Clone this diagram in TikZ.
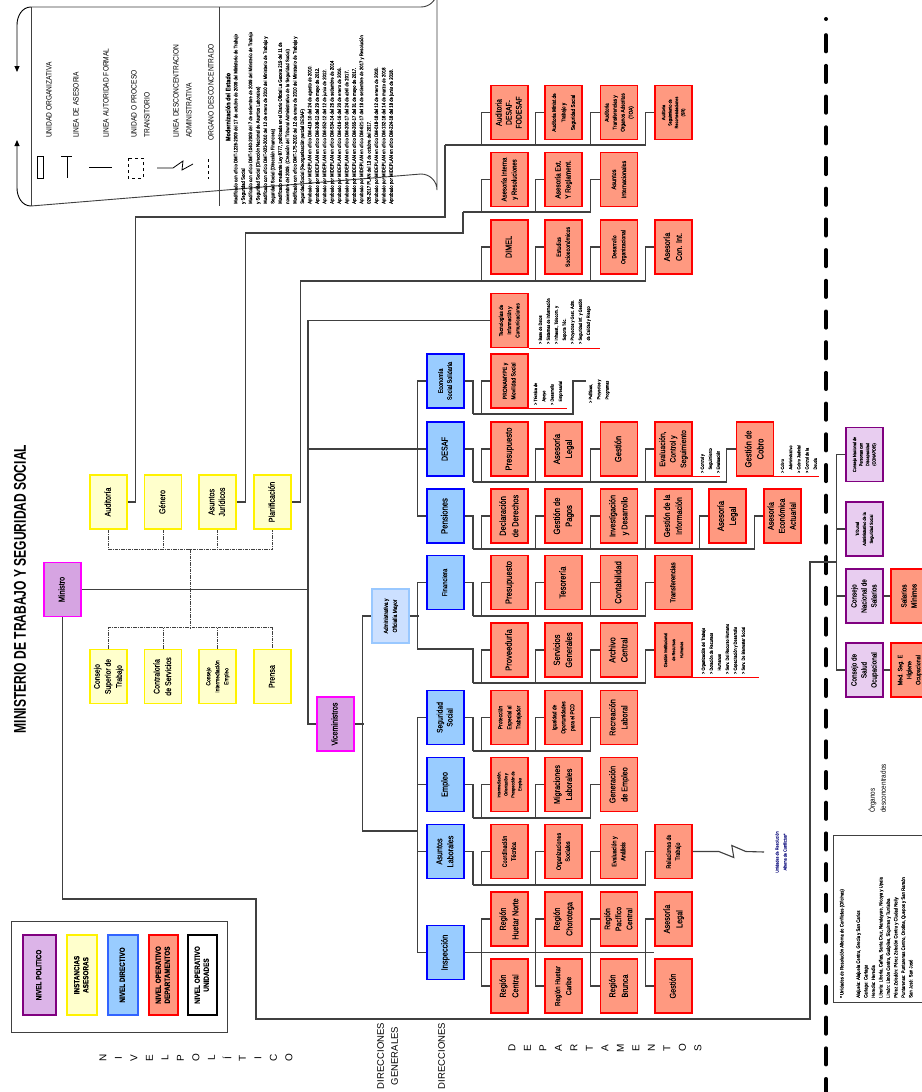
\documentclass[tikz,border=0pt]{standalone}
\usepackage{graphicx}
\usepackage{fontspec}
\setmainfont{Liberation Sans}[FakeStretch=0.85,FakeBold=0.35]
\newfontfamily\widef{Liberation Sans}
\newfontfamily\thinf{Liberation Sans}[FakeStretch=0.85]
\newfontfamily\titlef{Liberation Sans}[FakeStretch=0.71]
\usetikzlibrary{arrows.meta}
\definecolor{salmon}{RGB}{255,153,128}
\definecolor{skyb}{RGB}{153,204,255}
\definecolor{bordb}{RGB}{0,0,255}
\definecolor{paley}{RGB}{255,255,204}
\definecolor{lilac}{RGB}{214,164,226}
\definecolor{mag}{RGB}{255,0,255}
\definecolor{dpur}{RGB}{128,0,128}
\definecolor{lilacd}{RGB}{232,205,240}
\definecolor{lilacl}{RGB}{220,180,232}
\definecolor{paleb}{RGB}{204,224,255}
\definecolor{paleborder}{RGB}{153,200,255}
\definecolor{lnc}{RGB}{64,64,64}
\definecolor{navy}{RGB}{40,40,140}
\newcommand\rt[3]{\rotatebox{90}{\fontsize{#1}{#2}\selectfont\begin{tabular}{@{}c@{}}#3\end{tabular}}}
\newcommand\rtl[3]{\rotatebox{90}{\fontsize{#1}{#2}\selectfont\begin{tabular}{@{}l@{}}#3\end{tabular}}}
\newcommand\rtt[3]{\rotatebox{90}{\thinf\fontsize{#1}{#2}\selectfont\begin{tabular}{@{}l@{}}#3\end{tabular}}}
\newcommand\rtw[3]{\rotatebox{90}{\widef\fontsize{#1}{#2}\selectfont\begin{tabular}{@{}c@{}}#3\end{tabular}}}
\newcommand\ind{\phantom{> }}
\begin{document}
\begin{tikzpicture}[x=1pt,y=-1pt,
  bx/.style={minimum width=37pt,minimum height=54pt,inner sep=0pt,line width=1.6pt,text=black},
  redb/.style={bx,draw=red,fill=salmon},
  blueb/.style={bx,draw=bordb,fill=skyb},
  yelb/.style={bx,draw=yellow,fill=paley},
  polb/.style={bx,draw=mag,fill=lilac},
  desb/.style={bx,draw=dpur,fill=lilacd},
  admb/.style={bx,draw=paleborder,fill=paleb},
  ln/.style={draw=lnc,line width=1.1pt},
  adv/.style={draw=lnc,line width=0.9pt,dash pattern=on 3.5pt off 1pt on 1pt off 1pt},
  legb/.style={minimum height=80pt,inner sep=0pt,line width=1.5pt,text=black},
  ul/.style={draw=red,line width=1pt},
  lst/.style={inner sep=0pt,anchor=south west}]
\useasboundingbox (0,0) rectangle (921,1092);
\fill[white] (0,0) rectangle (921,1092);

% ---------- top-left legend ----------
\draw[lnc,line width=0.9pt] (31,7) -- (421,7) arc[start angle=90,end angle=0,radius=16] -- (437,190) arc[start angle=0,end angle=-90,radius=16] -- (31,206);
\draw[lnc,line width=0.9pt] (31,7) -- (31,206);
\draw[lnc,line width=0.9pt] (219,7) -- (219,206);
\draw[black,line width=0.9pt,-{Triangle[length=6pt,width=5pt]}] (31,7) to[out=180,in=90] (17,25) -- (17,72);
\draw[black,line width=0.9pt,-{Triangle[length=6pt,width=5pt]}] (31,206) to[out=180,in=-90] (17,188) -- (17,140);
\draw[black,line width=0.8pt] (37,156) rectangle (43,178);
\draw[black,line width=0.8pt] (61,156) -- (72,156) (67,156) -- (67,178);
\draw[black,line width=0.8pt] (89,167) -- (112,167);
\draw[black,line width=0.8pt,dashed] (128,158) rectangle (143,178);
\draw[black,line width=0.8pt] (157,168) -- (173,168) -- (183,161) -- (182,170) -- (193,164);
\draw[black,line width=0.8pt,dashed] (208,159) -- (208,179);
\node[anchor=south,inner sep=0pt] (l1) at (49,138) {\rtt{7.8}{13}{UNIDAD ORGANIZATIVA}};
\node[anchor=south,inner sep=0pt] (l2) at (76,138) {\rtt{7.8}{13}{LINEA DE ASESORIA}};
\node[anchor=south,inner sep=0pt] (l3) at (106,138) {\rtt{7.8}{13}{LINEA AUTORIDAD FORMAL}};
\node[anchor=south,inner sep=0pt] (l4) at (140.5,138) {\rtt{7.8}{13}{UNIDAD O PROCESO\\TRANSITORIO}};
\node[anchor=south,inner sep=0pt] (l5) at (182.5,138) {\rtt{7.8}{13}{LINEA DESCONCENTRACION\\ADMINISTRATIVA}};
\node[anchor=south,inner sep=0pt] (l6) at (211,141) {\rtt{7.8}{13}{ORGANO DESCONCENTRADO}};
\node (modt) at (228,107) {\rotatebox{90}{\fontsize{6.5}{7}\selectfont\bfseries Modernización del Estado}};
\node[lst] (modp) at (232,204) {\rtl{5}{7.4}{%
Modificado con oficio DMT-1226-2009 del 17 de octubre de 2009 del Ministerio de Trabajo\\
y Seguridad Social\\
Modificado con oficio DMT-1040-2009 del 7 de setiembre de 2009 del Ministerio de Trabajo\\
y Seguridad Social (Dirección Nacional de Asuntos Laborales)\\
Modificado con oficio DMT-023-2010 del 12 de enero de 2010 del Ministerio de Trabajo y\\
Seguridad Social (Dirección Financiera)\\
Modificado mediante Ley 8777, publicada en el Diario Oficial La Gaceta 219 del 11 de\\
noviembre del 2009. (Creación del Tribunal Administrativo de la Seguridad Social)\\
Modificado con oficio DMT-175-2010 del 12 de enero de 2010 del Ministerio de Trabajo y\\
Seguridad Social (Reorganización parcial DESAF)\\
Aprobado por MIDEPLAN en oficio DM-419-10 del 24 de agosto de 2010.\\
Aprobado por MIDEPLAN en oficio DM-308-12 del 29 de mayo de 2012.\\
Aprobado por MIDEPLAN en oficio DM-352-12 del 12 de junio de 2012.\\
Aprobado por MIDEPLAN en oficio DM-534-14 del 26 de setiembre de 2014\\
Aprobado por MIDEPLAN en oficio DM-016-16 del 20 de enero de 2016.\\
Aprobado por MIDEPLAN en oficio DM-200-17 del 24 de abril de 2017.\\
Aprobado por MIDEPLAN en oficio DM-265-17 del 31 de mayo de 2017.\\
Aprobado por MIDEPLAN en oficio DM-621-17 del 18 de setiembre de 2017 y Resolución\\
026-2017 PLAN del 13 de octubre del 2017.\\
Aprobado por MIDEPLAN en oficio DM-018-18 del 12 de enero de 2018.\\
Aprobado por MIDEPLAN en oficio DM-132-18 del 14 de marzo de 2018\\
Aprobado por MIDEPLAN en oficio DM-224-18 del 18 de junio de 2018.}};

% ---------- title ----------
\node (title) at (20,589) {\rotatebox{90}{\titlef\bfseries\fontsize{17}{17}\selectfont MINISTERIO DE TRABAJO Y SEGURIDAD SOCIAL}};

% ---------- political & advisory ----------
\node[polb] (min) at (62.5,589.5) {\rt{8.5}{10}{Ministro}};
\node[polb] (vm) at (335.5,724) {\rt{8.5}{10}{Viceministros}};
\node[yelb] (yaud) at (108.5,502) {\rt{8.5}{11}{Auditoría}};
\node[yelb] (ygen) at (163,502) {\rt{8.5}{11}{Género}};
\node[yelb] (yaj) at (217.5,502) {\rt{8.5}{10.5}{Asuntos\\Jurídicos}};
\node[yelb] (ypl) at (272.5,502) {\rt{8.5}{11}{Planificación}};
\node[yelb] (ycst) at (108.5,676.5) {\rt{8}{11}{Consejo\\Superior de\\Trabajo}};
\node[yelb] (ycs) at (163,676.5) {\rt{8.3}{11.5}{Contraloría\\de Servicios}};
\node[yelb] (yci) at (217.5,676.5) {\rt{5.8}{9}{Consejo\\Intermediación\\Empleo}};
\node[yelb] (ypr) at (272.5,676.5) {\rt{8.5}{11}{Prensa}};

% ---------- top red rows ----------
\node[redb] (a1) at (509.5,112.5) {\rt{8}{10}{Auditoria\\DESAF-\\FODESAF}};
\node[redb] (a2) at (563.5,112.5) {\rt{5.5}{9.5}{Auditoria Minist.de\\Trabajo y\\Seguridad Social}};
\node[redb] (a3) at (619,112.5) {\rt{5.5}{8}{Auditoria\\Transferencias y\\Organos Adscritos\\(TOA)}};
\node[redb] (a4) at (673.5,112.5) {\rt{4.5}{6.5}{Auditoria\\Seguimiento de\\Recomendaciones\\(SR)}};
\node[redb] (s1) at (509.5,179.5) {\rt{7}{10}{Asesoría Interna\\y Resoluciones}};
\node[redb] (s2) at (563.5,179.5) {\rt{7.5}{10}{Asesoría Ext.\\Y Reglament.}};
\node[redb] (s3) at (619,179.5) {\rt{6.5}{10}{Asuntos\\Internacionales}};
\node[redb] (m1) at (509.5,247) {\rt{8.5}{10}{DIMEL}};
\node[redb] (m2) at (563.5,247) {\rt{6}{9}{Estudios\\Socioeconómicos}};
\node[redb] (m3) at (619,247) {\rt{6}{9}{Desarrollo\\Organizacional}};
\node[redb] (m4) at (673.5,247) {\rt{8.5}{12}{Asesoría\\Con. Int.}};
\node[redb] (tic) at (509.5,320.5) {\rt{5.5}{8.3}{Tecnologías de\\Información y\\Comunicaciones}};
\node[lst] (ticl) at (536,344) {\rtl{4.5}{8}{> Base de Datos\\> Sistemas de Información\\> Infraest., Telecom. y\\\ind Soporte Téc.\\> Proyectos y Gest. Adm.\\> Seguridad Inf. y Gestión\\\ind de Calidad y Riesgo}};
\draw[ul] (tic.south east) -- ++(71,0);

% ---------- directorates ----------
\node[blueb] (econ) at (445.5,381) {\rt{6.5}{9}{Economía\\Social Solidaria}};
\node[blueb] (desaf) at (445.5,449) {\rt{8.5}{10}{DESAF}};
\node[blueb] (pens) at (445.5,516) {\rt{9}{10}{Pensiones}};
\node[blueb] (fin) at (445.5,582.5) {\rt{7}{8}{Financiera}};
\node[blueb] (segs) at (445.5,717.5) {\rt{8}{10}{Seguridad\\Social}};
\node[blueb] (empl) at (445.5,784.5) {\rt{8.7}{10}{Empleo}};
\node[blueb] (asla) at (445.5,851.5) {\rt{8.5}{11}{Asuntos\\Laborales}};
\node[blueb] (insp) at (445.5,952.5) {\rt{8.8}{10}{Inspección}};
\node[admb] (adm) at (390.5,616) {\rt{5.8}{9}{Administrativa y\\Oficialía Mayor}};

% ---------- departments ----------
\node[redb] (pron) at (509.5,381) {\rt{6}{8.5}{PRONAMYPE y\\Movilidad Social}};
\node[lst] (pronl) at (531,405) {\rtl{4.5}{8.3}{> Técnica de\\\ind Apoyo\\> Desarrollo\\\ind Empresarial}};
\draw[ul] (pron.south east) -- ++(38,0);
\node[lst] (pol) at (586,403) {\rtl{4.5}{8.3}{> Políticas,\\\ind Proyectos y\\\ind Programas}};

\node[redb] (d1) at (509.5,449) {\rt{9}{11}{Presupuesto}};
\node[redb] (d2) at (563.5,449) {\rt{9}{12}{Asesoría\\Legal}};
\node[redb] (d3) at (619,449) {\rt{9}{11}{Gestión}};
\node[redb] (d4) at (673.5,449) {\rt{8}{10.5}{Evaluación,\\Control y\\Seguimiento}};
\node[redb] (d5) at (755,449) {\rt{9}{12}{Gestión de\\Cobro}};
\node[lst] (d4l) at (698,473) {\rtl{4.5}{8}{> Control y\\\ind Seguimiento\\> Evaluación}};
\draw[ul] (d4.south east) -- ++(27,0);
\node[lst] (d5l) at (778,473) {\rtl{4.5}{8.2}{> Cobro\\\ind Administrativo\\> Cobro Judicial\\> Control de la\\\ind Deuda}};
\draw[ul] (d5.south east) -- ++(45,0);

\node[redb] (e1) at (509.5,516) {\rt{8.8}{12.5}{Declaración\\de Derechos}};
\node[redb] (e2) at (563.5,516) {\rt{9}{12}{Gestión de\\Pagos}};
\node[redb] (e3) at (619,516) {\rt{8.5}{12}{Investigación\\y Desarrollo}};
\node[redb] (e4) at (673.5,516) {\rt{8.5}{12}{Gestión de la\\Información}};
\node[redb] (e5) at (727.5,516) {\rt{9}{12}{Asesoría\\Legal}};
\node[redb] (e6) at (782.5,516) {\rt{8.3}{11}{Asesoría\\Económica\\Actuarial}};

\node[redb] (f1) at (509.5,582.5) {\rt{9}{11}{Presupuesto}};
\node[redb] (f2) at (563.5,582.5) {\rt{9}{11}{Tesorería}};
\node[redb] (f3) at (619,582.5) {\rt{9}{11}{Contabilidad}};
\node[redb] (f4) at (673.5,582.5) {\rt{7.2}{9}{Transferencias}};

\node[redb] (p1) at (509.5,650) {\rt{9}{11}{Proveeduría}};
\node[redb] (p2) at (563.5,650) {\rt{9}{12}{Servicios\\Generales}};
\node[redb] (p3) at (619,650) {\rt{9}{12}{Archivo\\Central}};
\node[redb] (p4) at (673.5,650) {\rt{4.5}{8}{Gestión Institucional\\de Recursos\\Humanos}};
\node[lst] (p4l) at (699,674) {\rtl{4.5}{8}{> Organización del Trabajo\\> Dotación de Recursos\\\ind Humanos\\> Serv. Del Recurso Humano\\> Capacitación y Desarrollo\\> Serv. De Bienestar Social}};
\draw[ul] (p4.south east) -- ++(66,0);

\node[redb] (g1) at (509.5,717.5) {\rt{5.8}{9}{Protección\\Especial al\\Trabajador}};
\node[redb] (g2) at (563.5,717.5) {\rt{5.8}{9}{Igualdad de\\Oportunidades\\para el PCD}};
\node[redb] (g3) at (619,717.5) {\rt{8.5}{12}{Recreación\\Laboral}};

\node[redb] (h1) at (509.5,784.5) {\rt{4.5}{7}{Intermediación,\\Orientación y\\Prospección de\\Empleo}};
\node[redb] (h2) at (563.5,784.5) {\rt{8.5}{12}{Migraciones\\Laborales}};
\node[redb] (h3) at (619,784.5) {\rt{8.5}{12}{Generación\\de Empleo}};

\node[redb] (k1) at (509.5,851.5) {\rt{6.3}{9}{Coordinación\\Técnica}};
\node[redb] (k2) at (563.5,851.5) {\rt{6.3}{9}{Organizaciones\\Sociales}};
\node[redb] (k3) at (619,851.5) {\rt{6.3}{9}{Evaluación y\\Análisis}};
\node[redb] (k4) at (673.5,851.5) {\rt{6.3}{9}{Relaciones de\\Trabajo}};
\node[text=navy] (urac) at (781,852) {\rt{4.5}{8}{Unidades de Resolución\\Alterna de Conflictos*}};
\coordinate (uend) at (764,852);

\node[redb] (r1) at (509.5,919) {\rt{8.5}{12.5}{Región\\Huetar Norte}};
\node[redb] (r2) at (563.5,919) {\rt{8.5}{12.5}{Región\\Chorotega}};
\node[redb] (r3) at (619,919) {\rt{8}{11}{Región\\Pacífico\\Central}};
\node[redb] (r4) at (673.5,919) {\rt{8.5}{12.5}{Asesoría\\Legal}};
\node[redb] (q1) at (509.5,986) {\rt{8.5}{12.5}{Región\\Central}};
\node[redb] (q2) at (563.5,986) {\rt{7.3}{11}{Región Huetar\\Caribe}};
\node[redb] (q3) at (619,986) {\rt{8.5}{12.5}{Región\\Brunca}};
\node[redb] (q4) at (673.5,986) {\rt{8.5}{11}{Gestión}};

% ---------- deconcentrated organs ----------
\node[desb] (cnp) at (864.5,454.5) {\rt{4.5}{6.5}{Consejo Nacional de\\Personas con\\Discapacidad\\(CONAPDIS)}};
\node[desb] (trib) at (864.5,529) {\rt{4.5}{7}{Tribunal\\Administrativo de la\\Seguridad Social}};
\node[desb] (cns) at (864.5,596) {\rt{7.5}{10}{Consejo\\Nacional de\\Salarios}};
\node[desb] (cso) at (864.5,670) {\rt{7.5}{10}{Consejo de\\Salud\\Ocupacional}};
\node[redb] (sal) at (909.5,596) {\rt{7.5}{10}{Salarios\\Mínimos}};
\node[redb] (med) at (909.5,670) {\rt{6.3}{9}{Med. Seg. E\\Higiene\\Ocupacional}};
\node[lst] (orgd) at (867,813) {\rtt{7.5}{11}{Órganos\\desconcentrados}};
\draw[lnc,line width=0.9pt] (833,835) rectangle (935,1002);
\node[lst] (uracl) at (838,998) {\rtl{5}{7.5}{* Unidades de Resolución Alterna de Conflictos (Oficinas)\\[9pt]
Alajuela: Alajuela Centro, Grecia y San Carlos\\
Cartago: Cartago\\
Heredia: Heredia\\
Liberia: Liberia, Cañas, Santa Cruz, Nandayure, Nicoya y Upala\\
Limón: Limón Centro, Guápiles, Siquirres y Turrialba\\
Pérez Zeledón: Pérez Zeledón Centro y Ciudad Neily\\
Puntarenas: Puntarenas Centro, Orotina, Quepos y San Ramón\\
San José: San José}};

% thick dashed separator
\fill[black] (826,19) circle (2);
\draw[black,line width=3.6pt,line cap=round,dash pattern=on 16.5pt off 14.2pt] (826,35) -- (826,1100);

% ---------- connectors ----------
\coordinate (tBot) at (308,724);
\coordinate (bAud) at (445,145);
\coordinate (jAud) at (445,217);
\coordinate (bAse) at (463,212);
\coordinate (jAse) at (463,233);
\coordinate (bDim) at (300,281);
\draw[ln] (yaud.east) -- ++(8,0) |- (jAud) |- (bAud);
\foreach \n in {a1,a2,a3,a4} \draw[ln] (\n.west) -- ++(-9,0) |- (bAud);
\draw[ln] (yaj.east) -- ++(9,0) |- (jAse) |- (bAse);
\foreach \n in {s1,s2,s3} \draw[ln] (\n.west) -- ++(-9,0) |- (bAse);
\draw[ln] (ypl.east) -- ++(9,0) |- (bDim);
\foreach \n in {m1,m2,m3,m4} \draw[ln] (\n.west) -- ++(-9,0) |- (bDim);
\draw[ln] (tic.west) -| (tBot) -- (vm.west);
\draw[ln] (min.east) -- (min.east -| tBot);
% advisory dashed
\coordinate (advT) at (190,549);
\coordinate (advB) at (190,629);
\draw[adv] (yaud.south) -- ++(0,20) -| (ypl.south);
\draw[adv] (ygen.south) -- ++(0,20);
\draw[adv] (yaj.south) -- ++(0,20);
\draw[adv] (ycst.north) -- ++(0,-21) -| (ypr.north);
\draw[adv] (ycs.north) -- ++(0,-21);
\draw[adv] (yci.north) -- ++(0,-21);
\draw[adv] (advT) -- (advB);
% DESAF group
\draw[ln] (econ.west) -- ++(-9,0) |- (pens.west);
\draw[ln] (desaf.west) -- (desaf.west -| tBot);
\coordinate (bEcon) at (473,414);
\draw[ln] (econ.east) -| (bEcon);
\draw[ln] (pron.west) -- ++(-9,0) |- (bEcon);
\draw[ln] (pol.west |- econ.east) -- ++(-13,0) |- (bEcon);
\coordinate (bDes) at (473,482);
\draw[ln] (desaf.east) -| (bDes);
\foreach \n in {d1,d2,d3,d4,d5} \draw[ln] (\n.west) -- ++(-9,0) |- (bDes);
\coordinate (bPen) at (473,549);
\draw[ln] (pens.east) -| (bPen);
\foreach \n in {e1,e2,e3,e4,e5,e6} \draw[ln] (\n.west) -- ++(-9,0) |- (bPen);
% Viceministros
\coordinate (bIns) at (418,831);
\draw[ln] (vm.east) -- ++(9,0);
\draw[ln] (adm.west) -- ++(-9,0) |- (bIns);
\draw[ln] (adm.east) -- ++(9,0);
\coordinate (pj) at (473,649);
\coordinate (bPro) at (473,683);
\draw[ln] (fin.west) -- ++(-9,0) |- (pj) -- (bPro);
\foreach \n in {p1,p2,p3,p4} \draw[ln] (\n.west) -- ++(-9,0) |- (bPro);
\coordinate (bFin) at (473,616);
\draw[ln] (fin.east) -| (bFin);
\foreach \n in {f1,f2,f3,f4} \draw[ln] (\n.west) -- ++(-9,0) |- (bFin);
% Inspection group
\draw[ln] (segs.west) -- ++(-9,0) |- (insp.west);
\draw[ln] (empl.west) -- ++(-9,0);
\draw[ln] (asla.west) -- ++(-9,0);
\coordinate (bSeg) at (473,751);
\draw[ln] (segs.east) -| (bSeg);
\foreach \n in {g1,g2,g3} \draw[ln] (\n.west) -- ++(-9,0) |- (bSeg);
\coordinate (bEmp) at (473,818);
\draw[ln] (empl.east) -| (bEmp);
\foreach \n in {h1,h2,h3} \draw[ln] (\n.west) -- ++(-9,0) |- (bEmp);
\coordinate (bLab) at (473,885);
\draw[ln] (asla.east) -| (bLab);
\foreach \n in {k1,k2,k3,k4} \draw[ln] (\n.west) -- ++(-9,0) |- (bLab);
\draw[ln] (k4.east) -- ++(26,0) -- ++(15,6) -- ++(-2,-12) -- ++(14,6) -- (uend);
\draw[ln] (insp.east) -- (insp.east -| r4.west);
\draw[ln] (r1.west) -- ++(-9,0) |- (q1.west);
\draw[ln] (r2.west) -- ++(-9,0) |- (q2.west);
\draw[ln] (r3.west) -- ++(-9,0) |- (q3.west);
\draw[ln] (r4.west) -- ++(-9,0) |- (q4.west);
% Ministro to deconcentrated organs
\coordinate (mj1) at (256,899);
\coordinate (mj2) at (810,1019);
\coordinate (mj3) at (837,562);
\draw[ln] (min.south) |- (mj1) |- (mj2) |- (mj3);
\draw[ln] (cnp.west) -- ++(-9,0) |- (cso.west);
\draw[ln] (trib.west) -- ++(-9,0);
\draw[ln] (cns.west) -- ++(-9,0);
\draw[ln] (cns.east) -- (sal.west);
\draw[ln] (cso.east) -- (med.west);

% ---------- bottom-left legend ----------
\draw[lnc,line width=1pt] (11,921) rectangle (227,1032);
\node[legb,minimum width=33pt,draw=dpur,fill=lilacl] (lp) at (39.5,975) {\rt{7.5}{9}{\bfseries NIVEL POLITICO}};
\node[legb,minimum width=30pt,draw=yellow,fill=paley] (li) at (82,975) {\rt{7.5}{9}{\bfseries INSTANCIAS\\\bfseries ASESORAS}};
\node[legb,minimum width=30pt,draw={rgb,255:red,50;green,100;blue,255},fill=skyb] (ld) at (123,975) {\rt{7.5}{9}{\bfseries NIVEL DIRECTIVO}};
\node[legb,minimum width=29pt,draw=red,fill=salmon] (lo) at (163.5,975) {\rt{7.5}{9}{\bfseries NIVEL OPERATIVO\\\bfseries DEPARTAMENTOS}};
\node[legb,minimum width=29pt,draw=black,fill=white,line width=1.8pt] (lu) at (202.5,975) {\rt{7.5}{9}{\bfseries NIVEL OPERATIVO\\\bfseries UNIDADES}};

% ---------- bottom labels ----------
\foreach \ch [count=\i from 0] in {N,I,V,E,L,P,O,L,Í,T,I,C,O}
  \node (np\i) at (103+15.5*\i,1058) {\rotatebox{90}{\widef\fontsize{10}{10}\selectfont \ch}};
\foreach \ch [count=\i from 0] in {D,E,P,A,R,T,A,M,E,N,T,O,S}
  \node (dp\i) at (512+15.5*\i,1048) {\rotatebox{90}{\widef\fontsize{10}{10}\selectfont \ch}};
\node (dg) at (388,1056) {\rtw{9.5}{14}{DIRECCIONES\\GENERALES}};
\node (dd) at (442,1056) {\rtw{9.5}{14}{DIRECCIONES}};
\end{tikzpicture}
\end{document}
